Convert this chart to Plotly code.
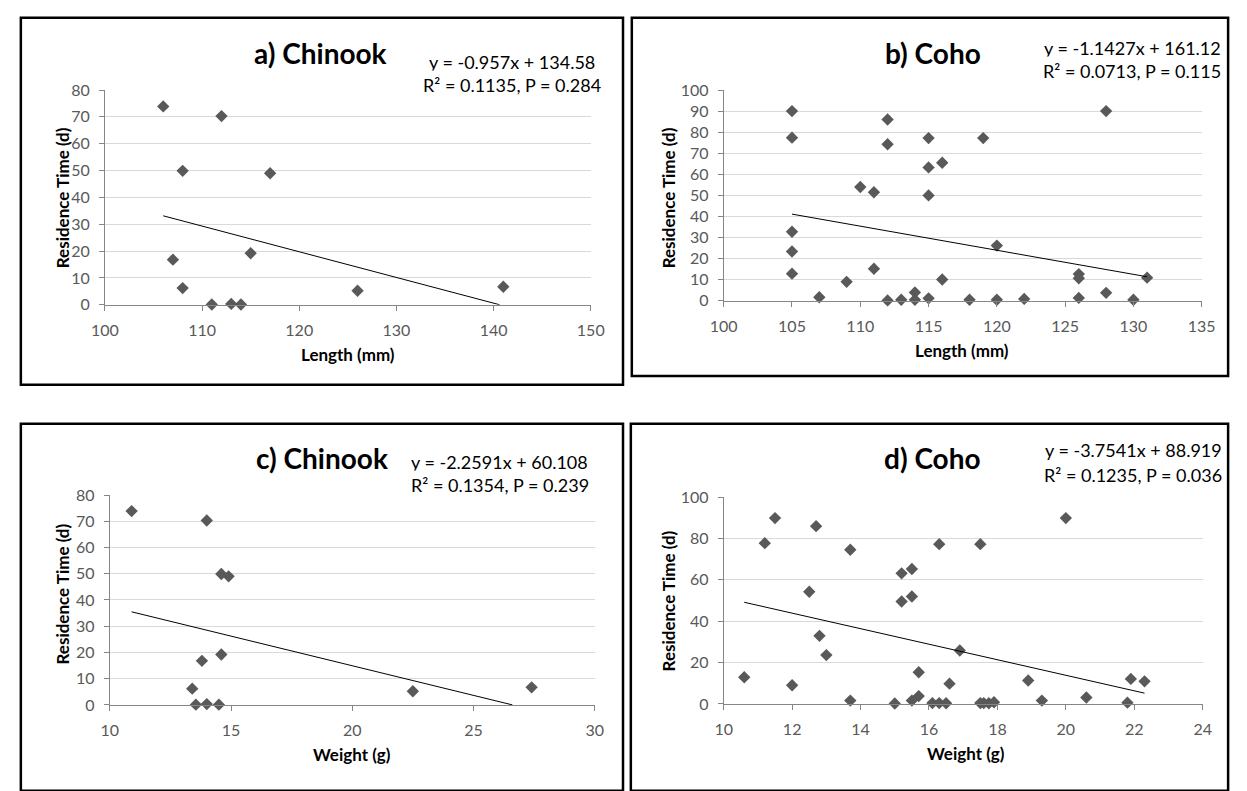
import plotly.graph_objects as go

# ---- data ----
chinook_length = [106, 112, 108, 117, 107, 115, 108, 111, 113, 114, 126, 141]
chinook_weight = [10.9, 14.0, 14.6, 14.9, 13.8, 14.6, 13.4, 13.55, 14.0, 14.5, 22.5, 27.4]
chinook_residence = [73.9, 70.3, 49.9, 49.0, 16.8, 19.2, 6.2, 0.1, 0.3, 0.1, 5.2, 6.7]

coho_length = [105, 105, 105, 105, 105, 107, 109, 110, 111, 111, 112, 112, 112, 113,
               114, 114, 115, 115, 115, 115, 116, 116, 118, 119, 120, 120, 122, 126,
               126, 126, 128, 128, 130, 131]
coho_length_residence = [90, 77.4, 32.8, 23.4, 12.9, 1.7, 9.0, 54, 51.5, 15.2, 86, 74.3,
                         0.2, 0.5, 4.0, 0.5, 77.2, 63.3, 50, 1.2, 65.5, 10.1, 0.5, 77.2,
                         26.2, 0.5, 0.9, 12.7, 10.7, 1.4, 90, 3.8, 0.5, 11.0]

coho_weight = [10.6, 11.2, 11.5, 12.0, 12.5, 12.7, 12.8, 13.0, 13.7, 13.7, 15.0, 15.2,
               15.2, 15.5, 15.5, 15.5, 15.7, 15.7, 16.1, 16.3, 16.3, 16.5, 16.6, 16.9,
               17.5, 17.5, 17.6, 17.75, 17.9, 18.9, 19.3, 20.0, 20.6, 21.8, 21.9, 22.3]
coho_weight_residence = [12.9, 77.7, 89.8, 9.0, 54.2, 85.9, 32.9, 23.6, 74.5, 1.6, 0.2,
                         63.1, 49.5, 65.2, 51.9, 1.6, 15.3, 3.8, 0.4, 0.4, 77.2, 0.3,
                         9.8, 25.8, 77.2, 0.4, 0.4, 0.3, 0.8, 11.3, 1.6, 89.8, 3.1, 0.6,
                         12.1, 10.9]

panel_titles = ["a) Chinook", "b) Coho", "c) Chinook", "d) Coho"]
x_titles = ["Length (mm)", "Length (mm)", "Weight (g)", "Weight (g)"]
slopes = [-0.957, -1.1427, -2.2591, -3.7541]
intercepts = [134.58, 161.12, 60.108, 88.919]
stats = ["R² = 0.1135, P = 0.284", "R² = 0.0713, P = 0.115",
         "R² = 0.1354, P = 0.239", "R² = 0.1235, P = 0.036"]
x_ranges = [[100, 150], [100, 135], [10, 30], [10, 24]]
x_dticks = [10, 5, 5, 2]
y_ranges = [[0, 80], [0, 100], [0, 80], [0, 100]]
y_dticks = [10, 10, 10, 20]

W, H = 1247, 791
FONT = "Lato"
MARKER = "#595959"
AXIS = "#868686"
GRID = "#d9d9d9"


def px(x):
    return x / W


def py(y):
    return 1 - y / H


# plot areas and frames in pixels (left, top, right, bottom)
plot_boxes = [(93, 82, 590, 302), (726, 82, 1215, 298), (98, 497, 594, 712), (726, 499, 1216, 711)]
frames = [(7, 8, 623, 384), (632, 8, 1242, 375), (7, 424, 623, 800), (631, 424, 1242, 800)]
title_pos = [(314, 44), (940, 44), (315, 459), (940, 459)]
eq_pos = [(509, 53, 77), (1144, 39, 63), (497, 463, 487), (1145, 451, 476)]
xtitle_pos = [(342, 353), (970, 349), (346, 763), (974, 762)]
ytitle_pos = [(50, 192), (669, 192), (50, 598), (669, 605)]

xs = [chinook_length, coho_length, chinook_weight, coho_weight]
ys = [chinook_residence, coho_length_residence, chinook_residence, coho_weight_residence]

fig = go.Figure()
layout = dict(
    width=W,
    height=H,
    margin=dict(l=0, r=0, t=0, b=0),
    paper_bgcolor="white",
    plot_bgcolor="white",
    showlegend=False,
    font=dict(family=FONT, color="#404040"),
    shapes=[],
    annotations=[],
)

for i in range(4):
    n = "" if i == 0 else str(i + 1)
    xa, ya = "x" + n, "y" + n
    left, top, right, bottom = plot_boxes[i]

    fig.add_trace(go.Scatter(
        x=xs[i], y=ys[i], xaxis=xa, yaxis=ya, mode="markers",
        marker=dict(symbol="diamond", size=9.5, color=MARKER, line=dict(width=0)),
        cliponaxis=False,
    ))

    # linear trendline over the data range, stopped at the x axis
    x0 = min(xs[i])
    x1 = max(xs[i])
    if slopes[i] * x1 + intercepts[i] < 0:
        x1 = -intercepts[i] / slopes[i]
    fig.add_trace(go.Scatter(
        x=[x0, x1], y=[slopes[i] * x0 + intercepts[i], slopes[i] * x1 + intercepts[i]],
        xaxis=xa, yaxis=ya, mode="lines", line=dict(color="black", width=1),
    ))

    layout["xaxis" + n] = dict(
        domain=[px(left), px(right)], anchor=ya, range=x_ranges[i], dtick=x_dticks[i],
        showgrid=False, zeroline=False, showline=True, linecolor=AXIS, linewidth=1,
        ticks="outside", ticklen=5, tickcolor=AXIS, ticklabelstandoff=6,
        tickfont=dict(family=FONT, size=16, color="#595959"),
    )
    layout["yaxis" + n] = dict(
        domain=[py(bottom), py(top)], anchor=xa, range=y_ranges[i], dtick=y_dticks[i],
        showgrid=True, gridcolor=GRID, gridwidth=1, zeroline=False,
        showline=True, linecolor=AXIS, linewidth=1,
        ticks="outside", ticklen=5, tickcolor=AXIS, ticklabelstandoff=6,
        tickfont=dict(family=FONT, size=16, color="#595959"),
    )

    fl, ft, fr, fb = frames[i]
    layout["shapes"].append(dict(
        type="rect", xref="paper", yref="paper", x0=px(fl), x1=px(fr), y0=py(fb), y1=py(ft),
        line=dict(color="black", width=2.5), fillcolor="rgba(0,0,0,0)",
    ))

    tx, ty = title_pos[i]
    layout["annotations"].append(dict(
        text="<b>%s</b>" % panel_titles[i], x=px(tx), y=py(ty), xref="paper", yref="paper",
        showarrow=False, xanchor="center", yanchor="middle",
        font=dict(family=FONT, size=28, color="black"),
    ))

    ex, ey1, ey2 = eq_pos[i]
    sign = "+" if intercepts[i] >= 0 else "-"
    eq_text = "y = %gx %s %g" % (slopes[i], sign, abs(intercepts[i]))
    layout["annotations"].append(dict(
        text=eq_text, x=px(ex), y=py(ey1), xref="paper", yref="paper",
        showarrow=False, xanchor="center", yanchor="middle", bgcolor="white",
        font=dict(family=FONT, size=18, color="black"),
    ))
    layout["annotations"].append(dict(
        text=stats[i], x=px(ex), y=py(ey2), xref="paper", yref="paper",
        showarrow=False, xanchor="center", yanchor="middle", bgcolor="white", borderpad=3,
        font=dict(family=FONT, size=18, color="black"),
    ))

    xtx, xty = xtitle_pos[i]
    layout["annotations"].append(dict(
        text="<b>%s</b>" % x_titles[i], x=px(xtx), y=py(xty), xref="paper", yref="paper",
        showarrow=False, xanchor="center", yanchor="middle",
        font=dict(family=FONT, size=17, color="black"),
    ))
    ytx, yty = ytitle_pos[i]
    layout["annotations"].append(dict(
        text="<b>Residence Time (d)</b>", x=px(ytx), y=py(yty), xref="paper", yref="paper",
        showarrow=False, xanchor="center", yanchor="middle", textangle=-90,
        font=dict(family=FONT, size=17, color="black"),
    ))

fig.update_layout(**layout)
# the page should hold just the figure, with no body margin around it
fig.write_html(
    "out.html",
    config={"displayModeBar": False},
    post_script="document.body.style.margin='0';document.body.style.overflow='hidden';",
)
